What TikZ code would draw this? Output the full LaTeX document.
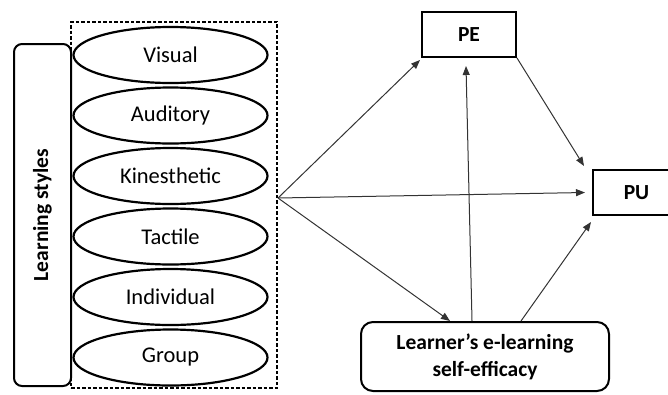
\documentclass[tikz,border=0pt]{standalone}
\usepackage{fontspec}
\setmainfont{Carlito}
\usetikzlibrary{shapes.geometric,arrows.meta,calc}
\begin{document}
\begin{tikzpicture}[x=1pt,y=-1pt,
  lsty/.style={draw, ellipse, line width=2.2pt, minimum width=194pt, minimum height=56pt, inner sep=0pt, font=\fontsize{22.5}{26}\selectfont},
  boxsty/.style={draw, line width=2pt, inner sep=0pt, font=\bfseries\fontsize{21.5}{27}\selectfont, align=center},
  arr/.style={draw=black!80, line width=1pt, -{Triangle[length=9pt,width=7pt]}}
]
\useasboundingbox (0,0) rectangle (668,394);
\begin{scope}
\clip (0,0) rectangle (668,394);
% dashed frame
\node[draw, dashed, dash pattern=on 3.5pt off 2pt, line width=1.1pt, minimum width=206pt, minimum height=366pt, inner sep=0pt] (frame) at (174,205) {};
% learning styles box
\node[draw, line width=2pt, rounded corners=8pt, minimum width=57pt, minimum height=342pt, inner sep=0pt] (ls) at (42.5,215) {};
\node[rotate=90, font=\bfseries\fontsize{21.5}{26}\selectfont] (lstext) at (ls) {Learning styles};
% ellipses
\node[lsty] (vis) at (170.5,55) {Visual};
\node[lsty] (aud) at (170.5,115.5) {Auditory};
\node[lsty] (kin) at (170.5,176) {Kinesthetic};
\node[lsty] (tac) at (170.5,236.5) {Tactile};
\node[lsty] (ind) at (170.5,297) {Individual};
\node[lsty] (grp) at (170.5,357.5) {Group};
% right nodes
\node[boxsty, minimum width=94pt, minimum height=45pt] (pe) at (469,34.5) {PE};
\node[boxsty, minimum width=87pt, minimum height=45pt] (pu) at (636.5,192.5) {PU};
\node[boxsty, rounded corners=12pt, minimum width=248pt, minimum height=69pt] (lse) at (485,356.5) {Learner’s e-learning\\self-efficacy};
\coordinate (o) at (278,198);
% arrows
\draw[arr] (o) -- ($(pe.south west)+(-1,2)$);
\draw[arr] (o) -- ($(pu.west)+(-7,0)$);
\draw[arr] (o) -- ($(lse.north)+(-35,0)$);
\draw[arr] ($(lse.north)+(-13,0)$) -- ($(pe.south)+(-3,8)$);
\draw[arr] (pe.south east) -- ($(pu.north west)+(-8,-3)$);
\draw[arr] ($(lse.north)+(36,0)$) -- ($(pu.south west)+(-1,6)$);
\end{scope}
\end{tikzpicture}
\end{document}
